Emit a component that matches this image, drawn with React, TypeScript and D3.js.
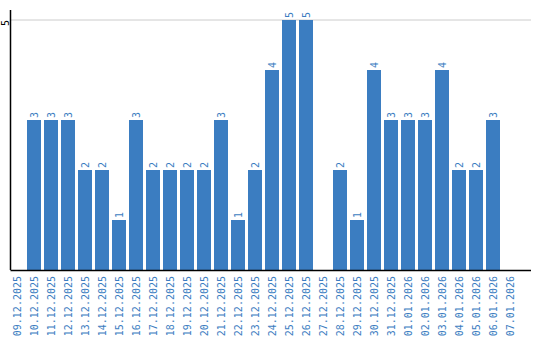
import React from "react";
import * as d3 from "d3";

const dates = [
  "09.12.2025", "10.12.2025", "11.12.2025", "12.12.2025", "13.12.2025",
  "14.12.2025", "15.12.2025", "16.12.2025", "17.12.2025", "18.12.2025",
  "19.12.2025", "20.12.2025", "21.12.2025", "22.12.2025", "23.12.2025",
  "24.12.2025", "25.12.2025", "26.12.2025", "27.12.2025", "28.12.2025",
  "29.12.2025", "30.12.2025", "31.12.2025", "01.01.2026", "02.01.2026",
  "03.01.2026", "04.01.2026", "05.01.2026", "06.01.2026", "07.01.2026",
];
const counts = [0, 3, 3, 3, 2, 2, 1, 3, 2, 2, 2, 2, 3, 1, 2, 4, 5, 5, 0, 2, 1, 4, 3, 3, 3, 4, 2, 2, 3, 0];
const yTicks = [5];

const W = 540;
const H = 340;
const left = 10.5;
const right = 531;
const top = 10;
const bottom = 270;
const blue = "#3b7dc1";
const font = "'DejaVu Sans Mono', monospace";

export default function App() {
  const x = d3
    .scaleBand<string>()
    .domain(dates)
    .range([8.5, 518.5])
    .paddingInner(3 / 17)
    .paddingOuter(1.5 / 17);
  const y = d3.scaleLinear().domain([0, 5]).range([bottom, 20]);

  return (
    <svg
      width={W}
      height={H}
      style={{ position: "absolute", left: 0, top: 0, background: "#fff" }}
    >
      {yTicks.map((t) => (
        <g key={t}>
          <line x1={left} x2={right} y1={y(t)} y2={y(t)} stroke="#cccccc" strokeWidth={1} />
          <text
            transform={`translate(5,${y(t)}) rotate(-90)`}
            textAnchor="end"
            dy="0.35em"
            fontFamily={font}
            fontSize={10}
            fill="#000"
          >
            {t}
          </text>
        </g>
      ))}
      {dates.map((d, i) => {
        const v = counts[i];
        const bx = x(d)!;
        const cx = bx + x.bandwidth() / 2;
        return (
          <g key={d}>
            {v > 0 && (
              <rect x={bx} y={y(v)} width={x.bandwidth()} height={y(0) - y(v)} fill={blue} />
            )}
            {v > 0 && (
              <text
                transform={`translate(${cx},${y(v) - 2}) rotate(-90)`}
                textAnchor="start"
                dy="0.35em"
                fontFamily={font}
                fontSize={10}
                fill={blue}
              >
                {v}
              </text>
            )}
            <text
              transform={`translate(${cx},${bottom + 6}) rotate(-90)`}
              textAnchor="end"
              dy="0.35em"
              fontFamily={font}
              fontSize={10}
              fill={blue}
            >
              {d}
            </text>
          </g>
        );
      })}
      <line x1={left} x2={left} y1={top} y2={bottom} stroke="#000" strokeWidth={1.5} />
      <line x1={left} x2={right} y1={bottom + 0.5} y2={bottom + 0.5} stroke="#000" strokeWidth={1.5} />
    </svg>
  );
}
